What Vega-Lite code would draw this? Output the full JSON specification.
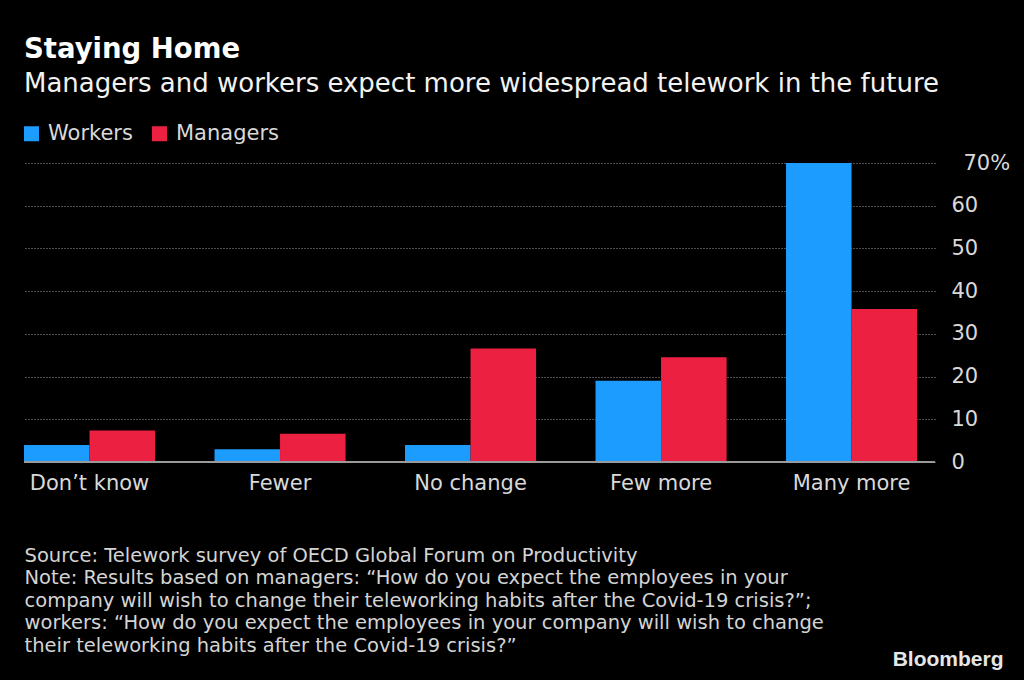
{
  "$schema": "https://vega.github.io/schema/vega-lite/v6.json",
  "width": 911,
  "height": 299,
  "autosize": "none",
  "padding": {"left": 24, "top": 163, "right": 89, "bottom": 218},
  "background": "#000000",
  "config": {
    "view": {"stroke": null},
    "font": "DejaVu Sans"
  },
  "title": {
    "text": "Staying Home",
    "subtitle": "Managers and workers expect more widespread telework in the future",
    "anchor": "start",
    "frame": "group",
    "font": "DejaVu Sans",
    "fontSize": 27.5,
    "fontWeight": "bold",
    "color": "#ffffff",
    "subtitleFont": "DejaVu Sans",
    "subtitleFontSize": 26,
    "subtitleColor": "#f2f2f2",
    "subtitlePadding": 8,
    "offset": 26
  },
  "data": {
    "values": [
      {"answer": "Don’t know", "group": "Workers", "share": 4.0},
      {"answer": "Don’t know", "group": "Managers", "share": 7.4},
      {"answer": "Fewer", "group": "Workers", "share": 3.0},
      {"answer": "Fewer", "group": "Managers", "share": 6.6},
      {"answer": "No change", "group": "Workers", "share": 4.0},
      {"answer": "No change", "group": "Managers", "share": 26.6},
      {"answer": "Few more", "group": "Workers", "share": 19.0},
      {"answer": "Few more", "group": "Managers", "share": 24.5},
      {"answer": "Many more", "group": "Workers", "share": 70.0},
      {"answer": "Many more", "group": "Managers", "share": 35.8}
    ]
  },
  "layer": [
    {
      "mark": {"type": "bar"},
      "encoding": {
        "x": {
          "field": "answer",
          "type": "nominal",
          "sort": null,
          "scale": {"paddingInner": 0.312, "paddingOuter": 0.047, "align": 0},
          "axis": {
            "orient": "bottom",
            "domain": false,
            "ticks": false,
            "labelAngle": 0,
            "labelFontSize": 21,
            "labelColor": "#d9d9d9",
            "labelPadding": 10,
            "title": [
              "Source: Telework survey of OECD Global Forum on Productivity",
              "Note: Results based on managers: “How do you expect the employees in your",
              "company will wish to change their teleworking habits after the Covid-19 crisis?”;",
              "workers: “How do you expect the employees in your company will wish to change",
              "their teleworking habits after the Covid-19 crisis?”"
            ],
            "titleFontSize": 19.5,
            "titleFontWeight": "normal",
            "titleColor": "#d4d4d4",
            "titleLineHeight": 22.5,
            "titleAlign": "left",
            "titleBaseline": "top",
            "titleX": 0,
            "titleY": 84
          }
        },
        "xOffset": {
          "field": "group",
          "type": "nominal",
          "sort": ["Workers", "Managers"],
          "scale": {"paddingInner": 0, "paddingOuter": 0}
        },
        "y": {
          "field": "share",
          "type": "quantitative",
          "scale": {"domain": [0, 70], "nice": false},
          "axis": {
            "orient": "right",
            "values": [0, 10, 20, 30, 40, 50, 60, 70],
            "domain": false,
            "ticks": false,
            "grid": true,
            "gridColor": "#9a9a9a",
            "gridDash": [1, 2],
            "gridWidth": 1,
            "labelAlign": "left",
            "labelBaseline": "middle",
            "labelFontSize": 21,
            "labelColor": "#d9d9d9",
            "labelPadding": {"condition": {"test": "datum.value == 70", "value": 28}, "value": 16},
            "labelExpr": "datum.value == 70 ? '70%' : datum.label",
            "title": "Bloomberg",
            "titleAngle": 0,
            "titleFont": "Liberation Sans",
            "titleFontSize": 21,
            "titleFontWeight": "bold",
            "titleColor": "#e6e6e6",
            "titleAlign": "right",
            "titleBaseline": "alphabetic",
            "titleX": 68,
            "titleY": 502
          }
        },
        "color": {
          "field": "group",
          "type": "nominal",
          "scale": {"domain": ["Workers", "Managers"], "range": ["#1d9cff", "#ec2142"]},
          "legend": {
            "orient": "none",
            "legendX": -3,
            "legendY": -40,
            "direction": "horizontal",
            "title": null,
            "symbolType": "square",
            "symbolSize": 225,
            "symbolStrokeWidth": 0,
            "symbolOpacity": 1,
            "labelFontSize": 21,
            "labelColor": "#d9d9d9",
            "labelOffset": 6,
            "columnPadding": 16,
            "padding": 0
          }
        }
      }
    },
    {
      "mark": {"type": "rule", "color": "#9a9a9a", "strokeWidth": 2},
      "encoding": {
        "y": {"datum": 0, "type": "quantitative"}
      }
    }
  ]
}
